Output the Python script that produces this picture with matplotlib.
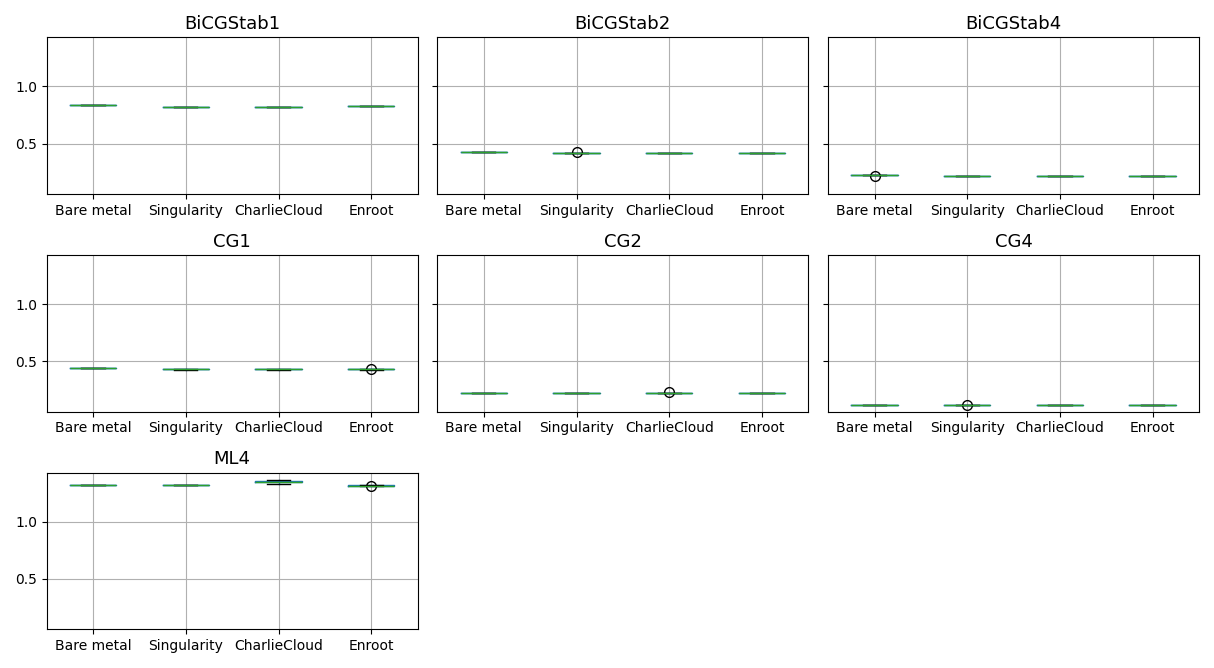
import matplotlib
matplotlib.use("Agg")
import matplotlib.pyplot as plt

envs = ["Bare metal", "Singularity", "CharlieCloud", "Enroot"]
solvers = ["BiCGStab1", "BiCGStab2", "BiCGStab4", "CG1", "CG2", "CG4", "ML4"]

bicgstab1 = [[0.834, 0.835, 0.836, 0.835, 0.834],
             [0.818, 0.820, 0.822, 0.821, 0.819],
             [0.818, 0.821, 0.822, 0.820, 0.819, 0.820],
             [0.826, 0.827, 0.828, 0.827, 0.826]]
bicgstab2 = [[0.428, 0.430, 0.431, 0.429, 0.430],
             [0.419, 0.420, 0.421, 0.420, 0.419, 0.430],
             [0.418, 0.420, 0.421, 0.419, 0.420],
             [0.418, 0.420, 0.421, 0.419, 0.420]]
bicgstab4 = [[0.225, 0.226, 0.227, 0.226, 0.225, 0.218],
             [0.215, 0.216, 0.217, 0.216, 0.215],
             [0.215, 0.216, 0.217, 0.216, 0.215],
             [0.215, 0.216, 0.217, 0.216, 0.215]]
cg1 = [[0.438, 0.440, 0.441, 0.439, 0.440],
       [0.428, 0.430, 0.431, 0.429, 0.430],
       [0.428, 0.430, 0.431, 0.429, 0.430],
       [0.428, 0.430, 0.431, 0.429, 0.430, 0.436]]
cg2 = [[0.222, 0.223, 0.224, 0.223, 0.222],
       [0.222, 0.223, 0.224, 0.223, 0.222],
       [0.222, 0.223, 0.224, 0.223, 0.222, 0.230],
       [0.222, 0.223, 0.224, 0.223, 0.222]]
cg4 = [[0.118, 0.119, 0.120, 0.119, 0.118],
       [0.117, 0.118, 0.119, 0.118, 0.117, 0.122],
       [0.118, 0.119, 0.120, 0.119, 0.118],
       [0.118, 0.119, 0.120, 0.119, 0.118]]
ml4 = [[1.318, 1.320, 1.322, 1.321, 1.319],
       [1.318, 1.320, 1.322, 1.321, 1.319],
       [1.335, 1.350, 1.365, 1.345, 1.360],
       [1.316, 1.318, 1.320, 1.319, 1.317, 1.310]]

data = [bicgstab1, bicgstab2, bicgstab4, cg1, cg2, cg4, ml4]

fig, axes = plt.subplots(3, 3, figsize=(12.14, 6.68), dpi=100, sharey=True)
axes = axes.ravel()
for i, (name, vals) in enumerate(zip(solvers, data)):
    ax = axes[i]
    ax.boxplot(vals, tick_labels=envs, widths=0.5,
               boxprops=dict(color="#1f77b4"),
               whiskerprops=dict(color="#1f77b4"),
               medianprops=dict(color="#2ca02c"),
               capprops=dict(color="black"),
               flierprops=dict(marker="o", markerfacecolor="none",
                               markeredgecolor="black", markersize=7))
    ax.set_title(name, fontsize=13)
    ax.grid(True)
    ax.tick_params(labelsize=10)
for ax in axes[len(solvers):]:
    ax.remove()
axes[0].set_ylim(0.06, 1.43)
axes[0].set_yticks([0.5, 1.0])
fig.tight_layout()
fig.savefig("out.png")
